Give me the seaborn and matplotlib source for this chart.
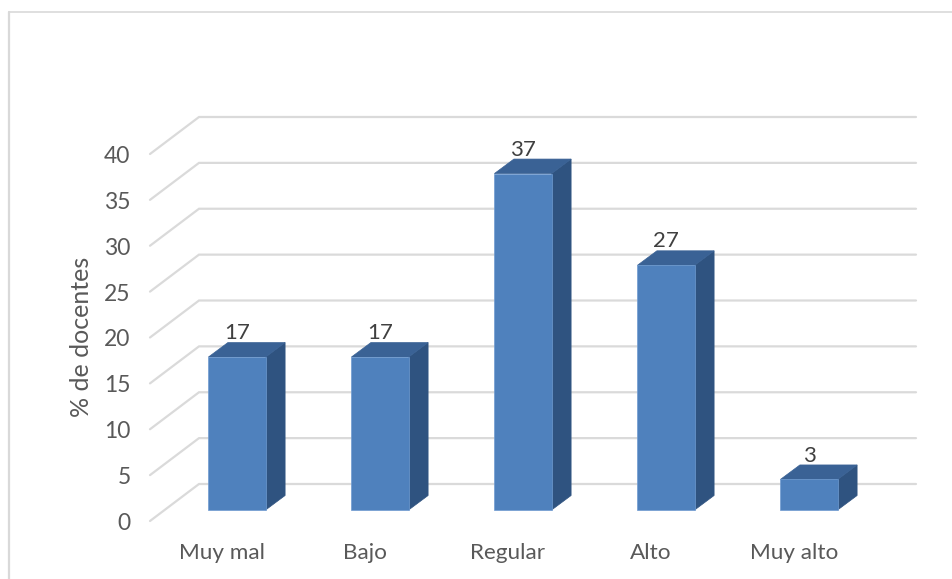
import matplotlib
matplotlib.use("Agg")
import matplotlib.pyplot as plt
import seaborn as sns
from matplotlib.lines import Line2D
from matplotlib.patches import Polygon
from matplotlib.transforms import ScaledTranslation

categories = ["Muy mal", "Bajo", "Regular", "Alto", "Muy alto"]
values = [16.67, 16.67, 36.67, 26.67, 3.33]
y_ticks = [0, 5, 10, 15, 20, 25, 30, 35, 40]

sns.set_theme(style="white")
plt.rcParams["font.family"] = ["Lato", "DejaVu Sans"]

W, H = 953, 579
DPI = 100
fig = plt.figure(figsize=(W / DPI, H / DPI), dpi=DPI, facecolor="white")

# pixel frame of the plot
L, R, T, B = 150, 916, 117, 521
ax = fig.add_axes([L / W, 1 - B / H, (R - L) / W, (B - T) / H])
PX_Y = 9.175      # px per value unit
PX_X = 143.0      # px per category
ZERO_PY = 510     # pixel row of value 0 at bar front
C0_PX = 237.0     # pixel column of the first bar

sns.barplot(x=categories, y=values, color="#4F81BD", saturation=1, width=0.4,
            ax=ax, edgecolor="#6F9BD1", linewidth=0.5, zorder=3)
ax.set_xlim((L - C0_PX) / PX_X, (R - C0_PX) / PX_X)
ax.set_ylim((ZERO_PY - B) / PX_Y, (ZERO_PY - T) / PX_Y)

# 3-D look: depth offsets in data units
bar_dx = 19.5 / PX_X
bar_dy = 14.5 / PX_Y
floor_x0, floor_x1 = ax.get_xlim()[0], (199 - C0_PX) / PX_X
front_off = (ZERO_PY - 521) / PX_Y
back_off = (ZERO_PY - 484) / PX_Y
grid_step = 45.875 / PX_Y / 5

for v in y_ticks:
    ax.plot([floor_x0, floor_x1, ax.get_xlim()[1]],
            [front_off + v * grid_step, back_off + v * grid_step, back_off + v * grid_step],
            color="#DADADA", lw=1.6, zorder=1, solid_joinstyle="miter", clip_on=False)

for patch in ax.containers[0]:
    x0 = patch.get_x()
    x1 = x0 + patch.get_width()
    h = patch.get_height()
    ax.add_patch(Polygon([(x1, 0), (x1 + bar_dx, bar_dy), (x1 + bar_dx, h + bar_dy), (x1, h)],
                         closed=True, fc="#2F5380", ec="#2F5380", lw=0.5, zorder=2.5))
    ax.add_patch(Polygon([(x0, h), (x0 + bar_dx, h + bar_dy), (x1 + bar_dx, h + bar_dy), (x1, h)],
                         closed=True, fc="#3A6295", ec="#3A6295", lw=0.5, zorder=2.6))

ax.bar_label(ax.containers[0], fmt="%.0f", padding=10, fontsize=16, color="#404040", zorder=5)

# axes text
ax.set_yticks(y_ticks)
ax.set_yticklabels([str(v) for v in y_ticks])
ax.tick_params(axis="y", length=0, pad=14, labelsize=16.5, labelcolor="#595959")
ax.tick_params(axis="x", length=0, pad=16, labelsize=16.2, labelcolor="#595959")
ytrans = ScaledTranslation(0, -11.5 / DPI, fig.dpi_scale_trans)
for lab in ax.get_yticklabels():
    lab.set_transform(lab.get_transform() + ytrans)
xtrans = ScaledTranslation(-15 / DPI, 0, fig.dpi_scale_trans)
for lab in ax.get_xticklabels():
    lab.set_transform(lab.get_transform() + xtrans)

ax.set_xlabel("")
ax.set_ylabel("% de docentes", fontsize=18, color="#595959")
ax.yaxis.set_label_coords((93 - L) / (R - L), (B - 337) / (B - T))

for s in ax.spines.values():
    s.set_visible(False)
ax.patch.set_alpha(0)

# outer chart frame (top and left only are visible)
fig.add_artist(Line2D([9.5 / W, 1], [1 - 12 / H, 1 - 12 / H], color="#D9D9D9", lw=1.2))
fig.add_artist(Line2D([9.5 / W, 9.5 / W], [0, 1 - 12 / H], color="#D9D9D9", lw=1.6))

fig.savefig("out.png", dpi=DPI, facecolor="white")
